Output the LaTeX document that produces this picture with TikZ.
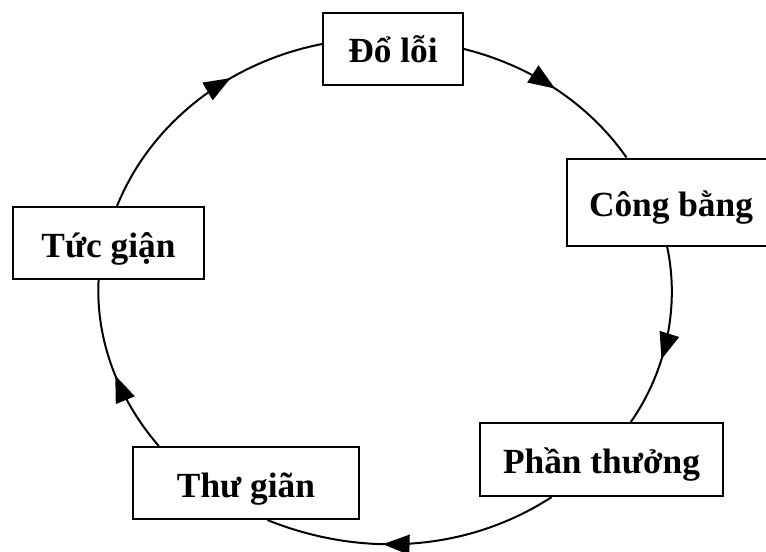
\documentclass[tikz,border=0pt]{standalone}
\usepackage{fontspec}
\setmainfont{Liberation Serif}
\usetikzlibrary{arrows.meta,decorations.markings}

\begin{document}
\begin{tikzpicture}[x=0.75pt, y=0.75pt, line width=1.5pt, box/.style={draw, fill=white, inner sep=0pt, text height=24pt, text depth=3pt, font=\bfseries\fontsize{26.5}{30}\selectfont}, arr/.style={postaction={decorate}, decoration={markings, mark=at position #1 with {\arrow{Triangle[length=20pt, width=15pt]}}}}]
\useasboundingbox (0,0) rectangle (766,551);
% the five stages, clockwise from the top
\node[box, minimum width=105pt, minimum height=54pt] (doloi) at (393,502) {Đổ lỗi};
\node[box, minimum width=156pt, minimum height=65.25pt] (congbang) at (671,349) {Công bằng};
\node[box, minimum width=182.25pt, minimum height=54.75pt] (phanthuong) at (601.5,91.5) {Phần thưởng};
\node[box, minimum width=169.5pt, minimum height=54pt] (thugian) at (246,68) {Thư giãn};
\node[box, minimum width=143.25pt, minimum height=54pt] (tucgian) at (108.5,308) {Tức giận};
% arcs of the cycle
\draw[arr=0.5] (doloi.east) to[out=-14, in=125, looseness=0.88] (congbang.135);
\draw[arr=0.62] (congbang.265) to[out=-78, in=55, looseness=0.88] (phanthuong.52);
\draw[arr=0.6] (phanthuong.217) to[out=-147, in=-22, looseness=0.91] (thugian.300);
\draw[arr=0.46] (thugian.157) to[out=131, in=-93, looseness=0.88] (tucgian.255);
\draw[arr=0.64] (tucgian.77) to[out=68, in=191, looseness=0.9] (doloi.176);
\end{tikzpicture}
\end{document}
